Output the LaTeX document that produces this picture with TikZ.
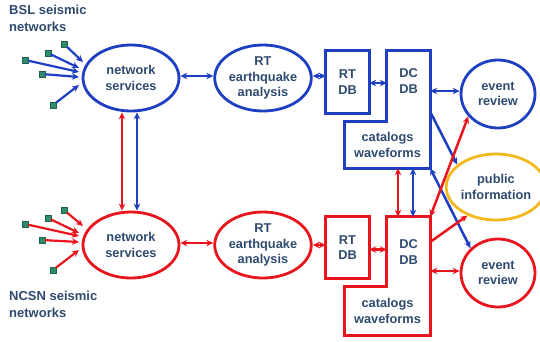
\documentclass[tikz,border=0pt]{standalone}
\usepackage{fontspec}
\setmainfont{Liberation Sans}
\usetikzlibrary{shapes.geometric,arrows.meta,calc}
\definecolor{bl}{HTML}{1E3FC2}
\definecolor{rd}{HTML}{E8141E}
\definecolor{yl}{HTML}{F2B81E}
\definecolor{tx}{HTML}{2E4A6E}
\definecolor{sq}{HTML}{2E8B6B}
\begin{document}
\begin{tikzpicture}[x=1pt,y=-1pt,
  lbl/.style={text=tx,font=\bfseries\fontsize{12.8}{15.5}\selectfont,align=center,inner sep=0pt},
  ell/.style={ellipse,draw,line width=2.8pt,inner sep=0pt,lbl},
  region/.style={rectangle,inner sep=0pt,lbl},
  outline/.style={line width=2.8pt,line join=miter},
  title/.style={text=tx,font=\bfseries\fontsize{13}{17}\selectfont,align=left,inner sep=0pt,anchor=north west},
  arr/.style={line width=2.5pt,-{Stealth[length=7pt,width=6.5pt]}},
  darr/.style={line width=2.5pt,{Stealth[length=7pt,width=6.5pt]}-{Stealth[length=7pt,width=6.5pt]}},
  sensor/.style={rectangle,draw=sq!70!black,fill=sq,line width=0.4pt,minimum size=5.5pt,inner sep=0pt}
]
\useasboundingbox (0,0) rectangle (540,341);

% titles
\node[title] (t1) at (9,5) {BSL seismic\\networks};
\node[title] (t2) at (9,291) {NCSN seismic\\networks};

% ---- blue (BSL) row ----
\node[ell,draw=bl,minimum width=96pt,minimum height=66pt] (ns1) at (131,78) {network\\services};
\node[ell,draw=bl,minimum width=94pt,minimum height=66pt] (rta1) at (263,78) {RT\\earthquake\\analysis};
\node[region,minimum width=43pt,minimum height=62pt] (rtdb1) at (347.5,82) {RT\\DB};
\draw[bl,outline] (rtdb1.north west) rectangle (rtdb1.south east);
\node[region,minimum width=43pt,minimum height=60pt] (dcdb1) at (408.5,81) {DC\\DB};
\node[region,minimum width=85pt,minimum height=46pt] (cat1) at (387.5,145) {catalogs\\waveforms};
\draw[bl,outline] (dcdb1.north west) -- (dcdb1.north east) -- (cat1.south east) -- (cat1.south west) -- (cat1.north west) -- (cat1.north west -| dcdb1.west) -- cycle;
\node[ell,draw=bl,minimum width=74pt,minimum height=68pt] (er1) at (498,94) {event\\review};

% public information
\node[ell,draw=yl,minimum width=86pt,minimum height=66pt] (pub) at (496,187) {public\\information};

% ---- red (NCSN) row ----
\node[ell,draw=rd,minimum width=96pt,minimum height=66pt] (ns2) at (131,245) {network\\services};
\node[ell,draw=rd,minimum width=94pt,minimum height=66pt] (rta2) at (263,245) {RT\\earthquake\\analysis};
\node[region,minimum width=43pt,minimum height=61pt] (rtdb2) at (347.5,247.5) {RT\\DB};
\draw[rd,outline] (rtdb2.north west) rectangle (rtdb2.south east);
\node[region,minimum width=43pt,minimum height=70pt] (dcdb2) at (408.5,252) {DC\\DB};
\node[region,minimum width=85pt,minimum height=48pt] (cat2) at (387.5,311) {catalogs\\waveforms};
\draw[rd,outline] (dcdb2.north west) -- (dcdb2.north east) -- (cat2.south east) -- (cat2.south west) -- (cat2.north west) -- (cat2.north west -| dcdb2.west) -- cycle;
\node[ell,draw=rd,minimum width=74pt,minimum height=68pt] (er2) at (498,273) {event\\review};

% ---- sensors ----
\foreach \i/\sx/\sy/\tx/\ty in {1/64/44/83/62, 2/48/53/79/68, 3/25/60/79/72, 4/42/74/79/77, 5/53/105/79/85}{
  \node[sensor] (bs\i) at (\sx,\sy) {};
  \coordinate (bt\i) at (\tx,\ty);
  \draw[arr,bl,line width=2.2pt] (bs\i) -- (bt\i);
}
\foreach \i/\sx/\sy/\tx/\ty in {1/64/210/83/226, 2/48/218/79/233, 3/25/224/79/236, 4/42/240/79/242, 5/53/270/79/250}{
  \node[sensor] (rs\i) at (\sx,\sy) {};
  \coordinate (rt\i) at (\tx,\ty);
  \draw[arr,rd,line width=2.2pt] (rs\i) -- (rt\i);
}

% ---- blue connectors ----
\draw[darr,bl] ([yshift=2pt]ns1.east) -- ([yshift=2pt]rta1.west);
\draw[darr,bl] ([yshift=2pt]rta1.east) -- ([yshift=2pt]rta1.east -| rtdb1.west);
\draw[darr,bl] ([yshift=-1pt]rtdb1.east) -- ([yshift=-1pt]rtdb1.east -| dcdb1.west);
\draw[darr,bl] ([yshift=3pt]er1.west -| dcdb1.east) -- ([yshift=3pt]er1.west);
\draw[arr,bl] ([yshift=10pt]cat1.north east) -- (pub.150);
\draw[darr,bl] (cat1.south east) -- (er2.138);

% ---- red connectors ----
\draw[darr,rd] ([yshift=2pt]ns2.east) -- ([yshift=2pt]rta2.west);
\draw[darr,rd] (rta2.east) -- (rta2.east -| rtdb2.west);
\draw[darr,rd] ([yshift=-2pt]rtdb2.east) -- ([yshift=-2pt]rtdb2.east -| dcdb2.west);
\draw[darr,rd] ([yshift=2pt]er2.west -| dcdb2.east) -- ([yshift=2pt]er2.west);
\draw[arr,rd] ([yshift=10pt]dcdb2.east) -- (pub.225);
\draw[darr,rd] (dcdb2.north east) -- (er1.217);

% ---- verticals between rows ----
\draw[darr,rd] ([xshift=-9pt]ns1.south) -- ([xshift=-9pt]ns2.north);
\draw[darr,bl] ([xshift=6pt]ns1.south) -- ([xshift=6pt]ns2.north);
\draw[darr,rd] ([xshift=-10.5pt]dcdb2.north) -- ([xshift=-10.5pt]dcdb2.north |- cat1.south);
\draw[darr,bl] ([xshift=4.5pt]dcdb2.north) -- ([xshift=4.5pt]dcdb2.north |- cat1.south);
\end{tikzpicture}
\end{document}
